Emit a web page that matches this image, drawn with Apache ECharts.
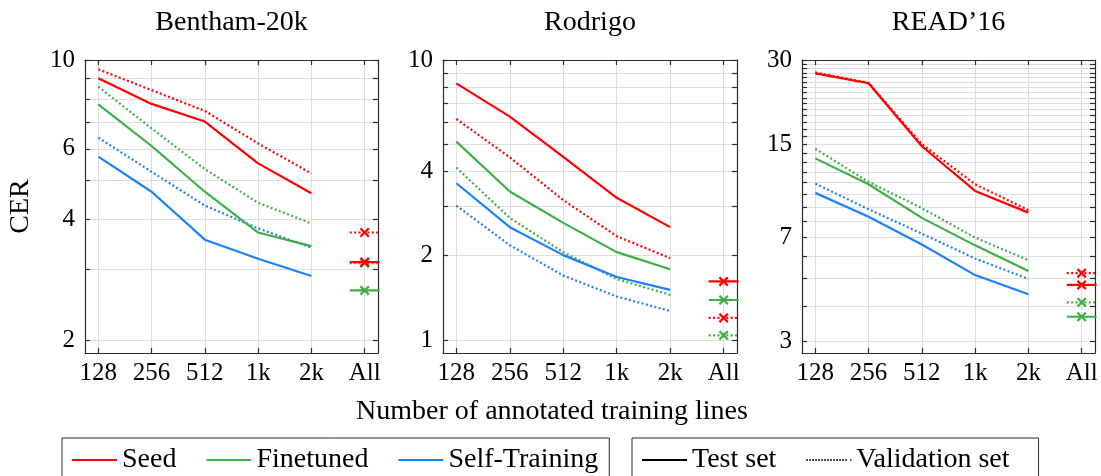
<!DOCTYPE html>
<html>
<head>
<meta charset="utf-8">
<script src="https://cdn.jsdelivr.net/npm/echarts@6/dist/echarts.min.js"></script>
<style>html,body{margin:0;padding:0;background:#fff}#c{width:1101px;height:476px}</style>
</head>
<body>
<div id="c"></div>
<script>
// ---- data ----
const categories = ['128', '256', '512', '1k', '2k', 'All'];
const panelTitles = ['Bentham-20k', 'Rodrigo', 'READ\u201916'];
const methods = ['Seed', 'Finetuned', 'Self-Training'];
const setNames = ['Test set', 'Validation set'];

const benthamSeedTest = [9.00, 7.77, 7.02, 5.52, 4.65];
const benthamSeedVal  = [9.48, 8.41, 7.46, 6.19, 5.21];
const benthamFtTest   = [7.75, 6.10, 4.69, 3.71, 3.43];
const benthamFtVal    = [8.58, 6.75, 5.34, 4.40, 3.91];
const benthamStTest   = [5.74, 4.69, 3.56, 3.19, 2.89];
const benthamStVal    = [6.40, 5.26, 4.33, 3.80, 3.40];
const benthamAllTest  = [3.13, 2.66];   // Seed, Finetuned
const benthamAllVal   = [3.71, 3.11];

const rodrigoSeedTest = [8.25, 6.28, 4.51, 3.22, 2.53];
const rodrigoSeedVal  = [6.16, 4.49, 3.16, 2.35, 1.96];
const rodrigoFtTest   = [5.11, 3.39, 2.62, 2.06, 1.79];
const rodrigoFtVal    = [4.13, 2.73, 2.06, 1.65, 1.45];
const rodrigoStTest   = [3.63, 2.53, 2.01, 1.68, 1.51];
const rodrigoStVal    = [3.02, 2.18, 1.70, 1.43, 1.27];
const rodrigoAllTest  = [1.62, 1.39];
const rodrigoAllVal   = [1.20, 1.04];

const readSeedTest = [26.9, 24.8, 14.8, 10.26, 8.59];
const readSeedVal  = [27.1, 24.9, 15.05, 10.84, 8.77];
const readFtTest   = [13.4, 10.84, 8.23, 6.57, 5.33];
const readFtVal    = [14.5, 11.05, 8.91, 7.0, 5.82];
const readStTest   = [10.1, 8.30, 6.62, 5.15, 4.40];
const readStVal    = [10.9, 8.83, 7.23, 5.90, 4.99];
const readAllTest  = [4.75, 3.66];
const readAllVal   = [5.23, 4.12];

const benthamRange = [1.856, 10];
const rodrigoRange = [0.899, 10];
const readRange    = [2.72, 30];
const benthamGrid  = [2, 3, 4, 5, 6, 7, 8, 9, 10];
const rodrigoGrid  = [1, 2, 3, 4, 5, 6, 7, 8, 9, 10];
const readGrid     = [3,4,5,6,7,8,9,10,11,12,13,14,15,16,17,18,19,20,21,22,23,24,25,26,27,28,29,30];
const benthamLabels = [2, 4, 6, 10];
const rodrigoLabels = [1, 2, 4, 10];
const readLabels    = [3, 7, 15, 30];

// ---- build ----
const colors = ['#ff0000', '#3cb043', '#1a82ff'];
const font = 'Liberation Serif';
const crossPath = 'path://M0,1.6L1.6,0L5,3.4L8.4,0L10,1.6L6.6,5L10,8.4L8.4,10L5,6.6L1.6,10L0,8.4L3.4,5Z';
const L = Math.log10;
const LW = 2.2;
const DOT = [2, 2.4];

const panels = [
  {test: [benthamSeedTest, benthamFtTest, benthamStTest], val: [benthamSeedVal, benthamFtVal, benthamStVal],
   allTest: benthamAllTest, allVal: benthamAllVal, range: benthamRange, gridV: benthamGrid, labels: benthamLabels},
  {test: [rodrigoSeedTest, rodrigoFtTest, rodrigoStTest], val: [rodrigoSeedVal, rodrigoFtVal, rodrigoStVal],
   allTest: rodrigoAllTest, allVal: rodrigoAllVal, range: rodrigoRange, gridV: rodrigoGrid, labels: rodrigoLabels},
  {test: [readSeedTest, readFtTest, readStTest], val: [readSeedVal, readFtVal, readStVal],
   allTest: readAllTest, allVal: readAllVal, range: readRange, gridV: readGrid, labels: readLabels}
];

const grids = [
  {left: 85, top: 60, width: 293, height: 293},
  {left: 443, top: 60, width: 294, height: 293},
  {left: 802, top: 60, width: 293, height: 293}
];

const xAxes = [], yAxes = [], series = [], titles = [];
const catIdx = categories.map((c, i) => i);
const axisLineStyle = {color: '#2a2a2a', width: 1.2};
const gridLineStyle = {color: '#dedede', width: 1};

panels.forEach((p, i) => {
  const g = grids[i];
  titles.push({text: panelTitles[i], left: g.left + g.width / 2, top: 9, textAlign: 'center', padding: 0,
    textStyle: {fontFamily: font, fontSize: 28, fontWeight: 'normal', color: '#000'}});
  xAxes.push({type: 'value', gridIndex: i, min: -0.25, max: 5.25, position: 'bottom',
    axisLine: {show: true, onZero: false, lineStyle: axisLineStyle},
    axisTick: {show: true, inside: true, length: 5, customValues: catIdx, lineStyle: axisLineStyle},
    axisLabel: {show: true, customValues: catIdx, formatter: v => categories[Math.round(v)], margin: 8,
      fontFamily: font, fontSize: 25, color: '#000'},
    splitLine: {show: true, lineStyle: gridLineStyle}});
  xAxes.push({type: 'value', gridIndex: i, min: -0.25, max: 5.25, position: 'top',
    axisLine: {show: true, onZero: false, lineStyle: axisLineStyle},
    axisTick: {show: true, inside: true, length: 5, customValues: catIdx, lineStyle: axisLineStyle},
    axisLabel: {show: false}, splitLine: {show: false}});
  const ymin = L(p.range[0]), ymax = L(p.range[1]);
  const gv = p.gridV.map(L), lv = p.labels.map(L);
  const yLeft = {type: 'value', gridIndex: i, min: ymin, max: ymax, position: 'left',
    axisLine: {show: true, onZero: false, lineStyle: axisLineStyle},
    axisTick: {show: true, inside: true, length: 5, customValues: gv, lineStyle: axisLineStyle},
    axisLabel: {show: true, customValues: lv, formatter: v => String(Math.round(Math.pow(10, v))), margin: 10,
      fontFamily: font, fontSize: 25, color: '#000'},
    splitLine: {show: true, lineStyle: gridLineStyle}};
  if (i === 0) {
    yLeft.name = 'CER'; yLeft.nameLocation = 'middle'; yLeft.nameRotate = 90; yLeft.nameGap = 50;
    yLeft.nameTextStyle = {fontFamily: font, fontSize: 28, color: '#000'};
  }
  yAxes.push(yLeft);
  yAxes.push({type: 'value', gridIndex: i, min: ymin, max: ymax, position: 'right',
    axisLine: {show: true, onZero: false, lineStyle: axisLineStyle},
    axisTick: {show: true, inside: true, length: 5, customValues: gv, lineStyle: axisLineStyle},
    axisLabel: {show: false}, splitLine: {show: false}});

  methods.forEach((m, k) => {
    series.push({name: m, type: 'line', xAxisIndex: 2 * i, yAxisIndex: 2 * i, symbol: 'none',
      data: p.test[k].map((v, j) => [j, L(v)]), lineStyle: {color: colors[k], width: LW}, itemStyle: {color: colors[k]},
      z: 3, silent: true, animation: false});
  });
  methods.forEach((m, k) => {
    series.push({name: m, type: 'line', xAxisIndex: 2 * i, yAxisIndex: 2 * i, symbol: 'none',
      data: p.val[k].map((v, j) => [j, L(v)]), lineStyle: {color: colors[k], width: LW, type: DOT}, itemStyle: {color: colors[k]},
      z: 2, silent: true, animation: false});
  });
  [0, 1].forEach(k => {
    [['test', p.allTest], ['val', p.allVal]].forEach(([kind, arr]) => {
      const y = L(arr[k]);
      series.push({name: methods[k], type: 'line', xAxisIndex: 2 * i, yAxisIndex: 2 * i,
        data: [[4.72, y], [5, y], [5.28, y]],
        symbol: (val, params) => params.dataIndex === 1 ? crossPath : 'none', symbolSize: 10, showSymbol: true,
        lineStyle: {color: colors[k], width: LW, type: kind === 'val' ? DOT : 'solid'},
        itemStyle: {color: colors[k]}, clip: true, z: kind === 'test' ? 4 : 3, silent: true, animation: false});
    });
  });
});

series.push({name: setNames[0], type: 'line', xAxisIndex: 0, yAxisIndex: 0, data: [], symbol: 'none',
  lineStyle: {color: '#000', width: 2}, itemStyle: {color: '#000'}});
series.push({name: setNames[1], type: 'line', xAxisIndex: 0, yAxisIndex: 0, data: [], symbol: 'none',
  lineStyle: {color: '#000', width: 1.5, type: [1.5, 1.5]}, itemStyle: {color: '#000'}});

// dotted legend icon built as a row of small squares (45 x 2 units)
let dotted = 'path://';
for (let x = 0; x < 40; x += 3) dotted += 'M' + x + ',0h1.4v2h-1.4Z';
dotted += 'M44,0h1v2h-1Z';

const legendText = {fontFamily: font, fontSize: 28, color: '#000'};
const option = {
  backgroundColor: '#fff',
  animation: false,
  title: titles,
  grid: grids,
  xAxis: xAxes,
  yAxis: yAxes,
  legend: [
    {data: methods.map(n => ({name: n, icon: 'rect'})), left: 62, top: 438, orient: 'horizontal',
     itemWidth: 45, itemHeight: 2.2, itemGap: 30,
     padding: [8, 11, 12, 10], borderColor: '#2a2a2a', borderWidth: 1, textStyle: legendText, selectedMode: false},
    {data: [{name: setNames[0], icon: 'rect'}, {name: setNames[1], icon: dotted}], left: 632, top: 438, orient: 'horizontal',
     itemWidth: 45, itemHeight: 2, itemGap: 30,
     padding: [8, 29, 12, 10], borderColor: '#2a2a2a', borderWidth: 1, textStyle: legendText, selectedMode: false}
  ],
  graphic: [{type: 'text', x: 552, y: 412, style: {text: 'Number of annotated training lines',
    font: '28px "Liberation Serif"', fill: '#000', align: 'center', verticalAlign: 'middle'}}],
  series: series
};
const chart = echarts.init(document.getElementById('c'), null, {renderer: 'canvas'});
chart.setOption(option);
</script>
</body>
</html>
